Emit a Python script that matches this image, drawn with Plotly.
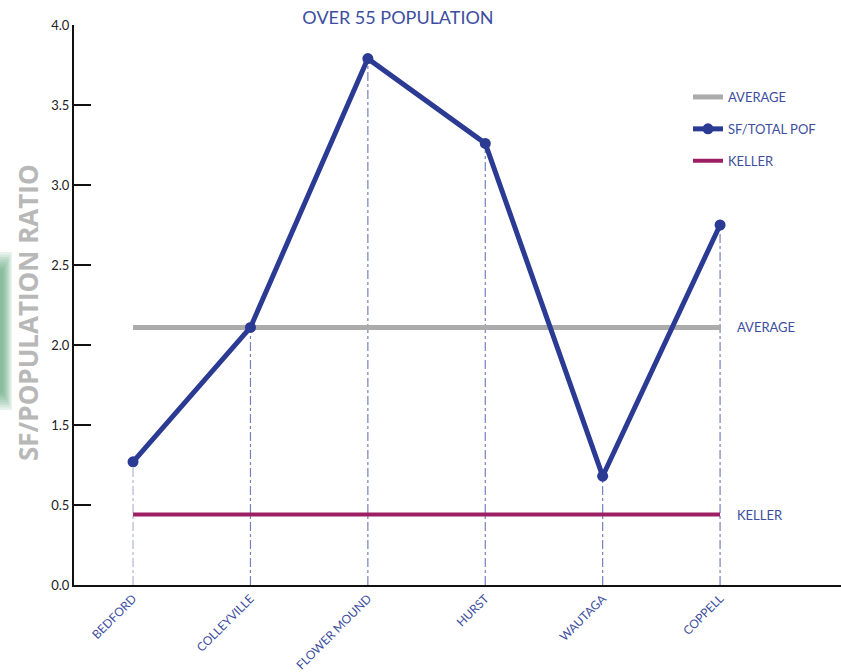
import plotly.graph_objects as go

# Data (values on the chart's displayed vertical scale)
cities = ["BEDFORD", "COLLEYVILLE", "FLOWER MOUND", "HURST", "WAUTAGA", "COPPELL"]
sf_total_pop = [0.77, 1.61, 3.29, 2.76, 0.68, 2.25]
average_value = 1.61
keller_value = 0.44
ytick_vals = [0, 0.5, 1.0, 1.5, 2.0, 2.5, 3.0, 3.5]
ytick_text = ["0.0", "0.5", "1.5", "2.0", "2.5", "3.0", "3.5", "4.0"]

BLUE = "#2b3a93"
LABEL_BLUE = "#3d4ea0"
GRAY = "#ababab"
MAGENTA = "#9c1f63"

W, H = 841, 672
ML, MR, MT, MB = 74, 0, 25, 87
PW, PH = W - ML - MR, H - MT - MB

def px_x(p):
    return (p - ML) / PW

def px_y(p):
    return (H - MB - p) / PH

fig = go.Figure()

# drop lines
drop_colors = ["#b3b7d4"] + ["#7580bd"] * 5
for c, v, col in zip(cities, sf_total_pop, drop_colors):
    fig.add_trace(go.Scatter(
        x=[c, c], y=[0, v], mode="lines",
        line=dict(color=col, width=1.2, dash="dashdot"),
        showlegend=False, hoverinfo="skip"))

fig.add_trace(go.Scatter(
    x=cities, y=[average_value] * len(cities), mode="lines",
    name="AVERAGE", line=dict(color=GRAY, width=5), legendgroup="a"))
fig.add_trace(go.Scatter(
    x=cities, y=sf_total_pop, mode="lines+markers",
    name="SF/TOTAL POF", line=dict(color=BLUE, width=5),
    marker=dict(color=BLUE, size=11), legendgroup="b"))
fig.add_trace(go.Scatter(
    x=cities, y=[keller_value] * len(cities), mode="lines",
    name="KELLER", line=dict(color=MAGENTA, width=4), legendgroup="c"))

# green blob at left edge (approximate soft gradient)
for i in range(8):
    fig.add_shape(type="rect", xref="paper", yref="paper",
                  x0=px_x(0), x1=px_x(12 - i * 1.3),
                  y0=px_y(410 - i * 2.5), y1=px_y(252 + i * 2.5),
                  fillcolor="rgb(70,160,110)", opacity=0.12, line_width=0,
                  layer="below")

fig.add_annotation(x=px_x(735), y=average_value, xref="paper", yref="y",
                   text="AVERAGE", showarrow=False, xanchor="left",
                   font=dict(family="Lato", size=13, color=LABEL_BLUE))
fig.add_annotation(x=px_x(735), y=keller_value, xref="paper", yref="y",
                   text="KELLER", showarrow=False, xanchor="left",
                   font=dict(family="Lato", size=13, color=LABEL_BLUE))
fig.add_annotation(x=px_x(28), y=px_y(313), xref="paper", yref="paper",
                   text="<b>SF/POPULATION RATIO</b>", textangle=-90,
                   showarrow=False, xanchor="center", yanchor="middle",
                   font=dict(family="Open Sans", size=26, color="#b8b8b8"))

fig.update_layout(
    width=W, height=H,
    margin=dict(l=ML, r=MR, t=MT, b=MB),
    paper_bgcolor="white", plot_bgcolor="white",
    title=dict(text="OVER 55 POPULATION", x=398 / W,
               xanchor="center", y=1 - 18 / H, yanchor="middle",
               font=dict(family="Lato", size=18, color=LABEL_BLUE)),
    showlegend=True,
    legend=dict(x=px_x(688), y=px_y(82), xanchor="left", yanchor="top",
                font=dict(family="Lato", size=13, color=LABEL_BLUE),
                tracegroupgap=12, bgcolor="rgba(0,0,0,0)"),
    xaxis=dict(range=[-0.503, 6.03], showgrid=False, zeroline=False,
               showline=True, linecolor="#111", linewidth=2,
               ticks="", tickangle=-45,
               tickfont=dict(family="Lato", size=12, color=LABEL_BLUE)),
    yaxis=dict(range=[0, 3.5], tickvals=ytick_vals, ticktext=ytick_text,
               showgrid=False, zeroline=False, showline=True,
               linecolor="#111", linewidth=2, ticks="inside", ticklen=17,
               tickwidth=2, tickcolor="#111",
               tickfont=dict(family="Lato", size=13, color="#222")),
)

fig.write_html("out.html")
